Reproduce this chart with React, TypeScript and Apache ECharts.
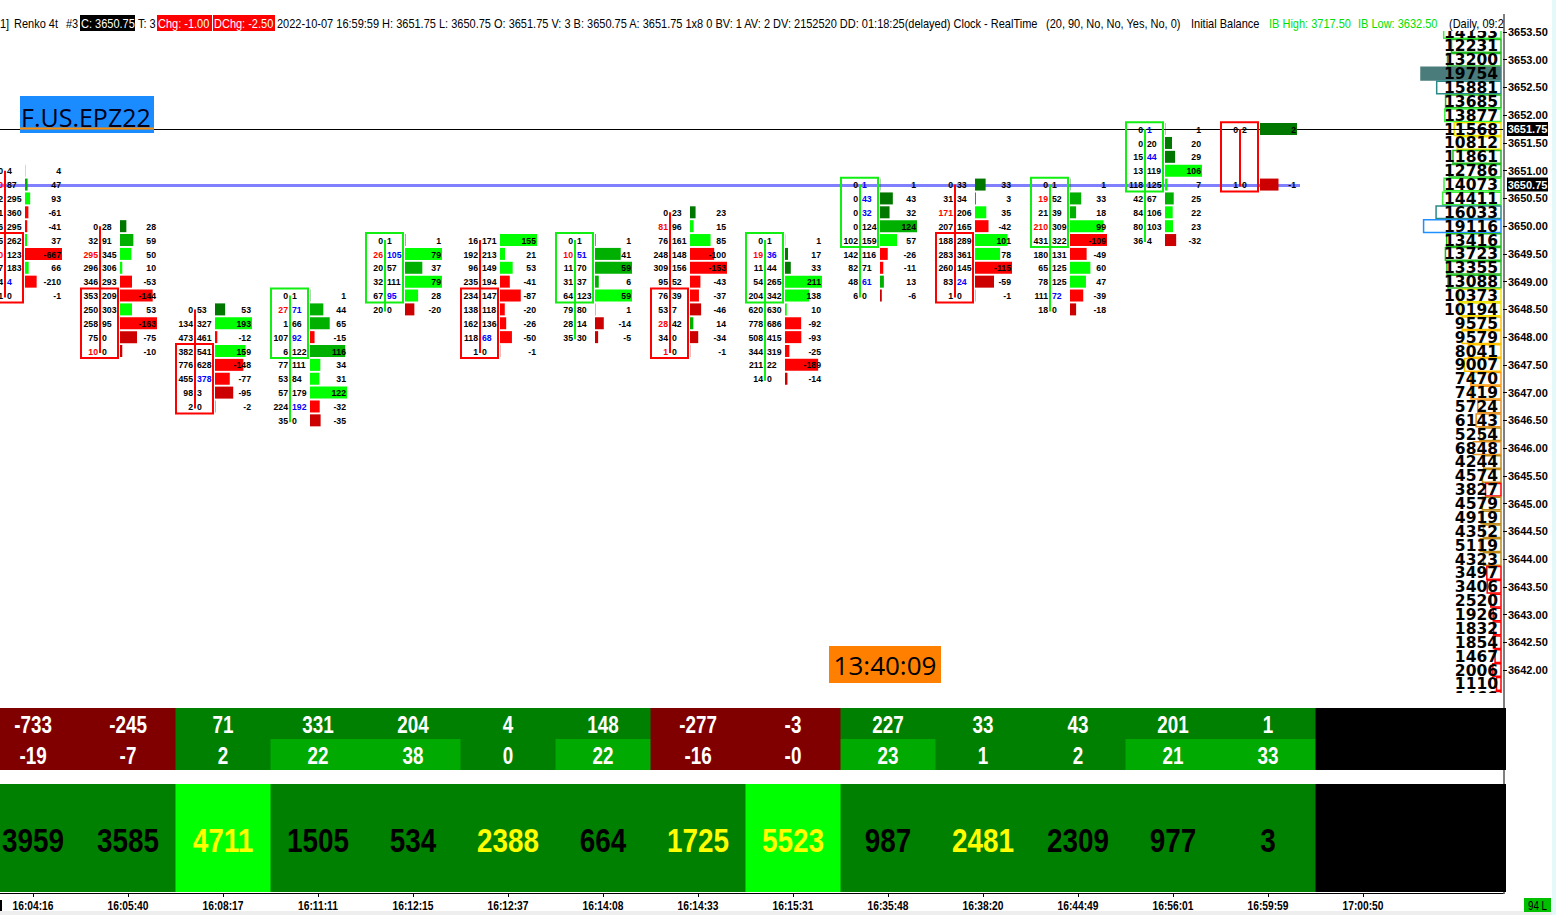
import React, { useEffect, useRef } from "react";
import * as echarts from "echarts";

// ---------- data ----------
const timeLabels = ["16:04:16", "16:05:40", "16:08:17", "16:11:11", "16:12:15", "16:12:37", "16:14:08", "16:14:33", "16:15:31", "16:35:48", "16:38:20", "16:44:49", "16:56:01", "16:59:59", "17:00:50"];
const barHighs = [3651.0, 3650.0, 3648.5, 3648.75, 3649.75, 3649.75, 3649.75, 3650.25, 3649.75, 3650.75, 3650.75, 3650.75, 3651.75, 3651.75];
const barDirection = ["down", "down", "down", "up", "up", "down", "up", "down", "up", "up", "down", "up", "up", "down"];
const bidVolumes: (number | null)[][] = [
  [0, 40, 202, 421, 336, 225, 790, 117, 214, 1],
  [0, 32, 295, 296, 346, 353, 250, 258, 75, 10],
  [0, 134, 473, 382, 776, 455, 98, 2],
  [0, 27, 1, 107, 6, 77, 53, 57, 224, 35],
  [0, 26, 20, 32, 67, 20],
  [16, 192, 96, 235, 234, 138, 162, 118, 1],
  [0, 10, 11, 31, 64, 79, 28, 35],
  [0, 81, 76, 248, 309, 95, 76, 53, 28, 34, 1],
  [0, 19, 11, 54, 204, 620, 778, 508, 344, 211, 14],
  [0, 0, 0, 0, 102, 142, 82, 48, 6],
  [0, 31, 171, 207, 188, 283, 260, 83, 1],
  [0, 19, 21, 210, 431, 180, 65, 78, 111, 18],
  [0, 0, 15, 13, 118, 42, 84, 80, 36],
  [0, null, null, null, 1],
];
const askVolumes: (number | null)[][] = [
  [4, 87, 295, 360, 295, 262, 123, 183, 4, 0],
  [28, 91, 345, 306, 293, 209, 303, 95, 0, 0],
  [53, 327, 461, 541, 628, 378, 3, 0],
  [1, 71, 66, 92, 122, 111, 84, 179, 192, 0],
  [1, 105, 57, 111, 95, 0],
  [171, 213, 149, 194, 147, 118, 136, 68, 0],
  [1, 51, 70, 37, 123, 80, 14, 30],
  [23, 96, 161, 148, 156, 52, 39, 7, 42, 0, 0],
  [1, 36, 44, 265, 342, 630, 686, 415, 319, 22, 0],
  [1, 43, 32, 124, 159, 116, 71, 61, 0],
  [33, 34, 206, 165, 289, 361, 145, 24, 0],
  [1, 52, 39, 309, 322, 131, 125, 125, 72, 0],
  [1, 20, 44, 119, 125, 67, 106, 103, 4],
  [2, null, null, null, 0],
];
const barDeltas = [-733, -245, 71, 331, 204, 4, 148, -277, -3, 227, 33, 43, 201, 1];
const deltaChange = [-19, -7, 2, 22, 38, 0, 22, -16, -0, 23, 1, 2, 21, 33];
const barVolumes = [3959, 3585, 4711, 1505, 534, 2388, 664, 1725, 5523, 987, 2481, 2309, 977, 3];
const profileTop = 3653.5;
const profileVolumes = [14153, 12231, 13200, 19754, 15881, 13685, 13877, 11568, 10812, 11861, 12786, 14073, 14411, 16033, 19116, 13416, 13723, 13355, 13088, 10373, 10194, 9575, 9579, 8041, 9007, 7470, 7419, 5724, 6143, 5254, 6848, 4244, 4574, 3827, 4579, 4919, 4352, 5119, 4323, 3497, 3406, 2520, 1926, 1832, 1854, 1467, 2006, 1110, 1460];
const askPrice = 3651.75;
const closePrice = 3650.75;
const priceMin = 3642.0;
const priceMax = 3653.5;

const TICK = 0.25;
const BRICK_TICKS = 4;
const IMBALANCE_RATIO = 3;

// layout constants
const PLOT_W = 1503;
const COL_W = 95;
const FIRST_CENTER = 33;
const X_MIN = -FIRST_CENTER / COL_W;
const X_MAX = (PLOT_W - FIRST_CENTER) / COL_W;
const N_SLOTS = 16;

const SANS = "'Liberation Sans', Arial, sans-serif";
const WIDE = "'DejaVu Sans', Verdana, sans-serif";
const UI = "'Open Sans', 'Noto Sans', sans-serif";
const NARROW_SCALE = 0.82;

function narrowText(x: number, y: number, text: string, size: number, fill: string, align = "left", bold = true, z?: number, scale = NARROW_SCALE) {
  const el: any = {
    type: "text",
    x,
    y,
    scaleX: scale,
    style: { text, fill, fontSize: size, fontWeight: bold ? "bold" : "normal", fontFamily: SANS, align, verticalAlign: "middle" },
  };
  if (z != null) el.z = z;
  return el;
}

function buildCells() {
  const cells: number[][] = [];
  bidVolumes.forEach((bids, c) => {
    const asks = askVolumes[c];
    const deltas = bids.map((b, r) => (b == null ? null : (asks[r] as number) - b));
    const maxAbs = Math.max(...deltas.filter((d) => d != null).map((d) => Math.abs(d as number)));
    bids.forEach((b, r) => {
      if (b == null) return;
      const a = asks[r] as number;
      const above = r > 0 ? asks[r - 1] : null;
      const below = r < bids.length - 1 ? bids[r + 1] : null;
      const bidImb = above != null && b > 0 && b >= IMBALANCE_RATIO * above ? 1 : 0;
      const askImb = below != null && a > 0 && a >= IMBALANCE_RATIO * below ? 1 : 0;
      cells.push([c, barHighs[c] - r * TICK, b, a, a - b, maxAbs, bidImb, askImb]);
    });
  });
  return cells;
}

function profileColor(v: number, max: number) {
  if (v === max) return "#4a7c7c";
  if (v >= 19000) return "#1e90ff";
  if (v >= 15000) return "#2a8a8a";
  if (v >= 13800) return "#3cf03c";
  if (v >= 11700) return "#22bb22";
  if (v >= 10000) return "#f0e400";
  if (v >= 8000) return "#ffc000";
  if (v >= 7000) return "#ff9a10";
  if (v >= 5500) return "#e89020";
  if (v >= 4000) return "#c08a18";
  return "#ff0000";
}

function buildOption(): any {
  const cells = buildCells();
  const profMax = Math.max(...profileVolumes);
  const emptyCols: number[] = [];
  for (let i = barVolumes.length; i < N_SLOTS; i++) emptyCols.push(i);

  const xAxes = [0, 1, 2].map((g) => ({
    type: "value",
    gridIndex: g,
    min: X_MIN,
    max: X_MAX,
    show: g === 2,
    axisLine: { show: true, onZero: false, lineStyle: { color: "#000", width: 1 } },
    axisTick: { show: false },
    axisLabel: { show: false },
    splitLine: { show: false },
  }));

  const header: any[] = [];
  const hBox = (x: number, w: number, color: string) =>
    header.push({ type: "rect", z: 100, shape: { x, y: 15, width: w, height: 16 }, style: { fill: color } });
  const hText = (x: number, text: string, fill = "#000") => header.push(narrowText(x, 23, text, 12.5, fill, "left", false, 101, 0.88));
  header.push({ type: "rect", z: 99, shape: { x: 0, y: 0, width: PLOT_W, height: 31 }, style: { fill: "#fff" } });
  hBox(80, 55, "#000000");
  hBox(157, 55, "#ff0000");
  hBox(213, 62, "#ff0000");
  hText(0, "1]");
  hText(14, "Renko 4t");
  hText(66, "#3");
  hText(81, "C: 3650.75", "#fff");
  hText(138, "T: 3");
  hText(158, "Chg: -1.00", "#fff");
  hText(214, "DChg: -2.50", "#fff");
  hText(277, "2022-10-07 16:59:59 H: 3651.75 L: 3650.75 O: 3651.75 V: 3 B: 3650.75 A: 3651.75 1x8 0 BV: 1 AV: 2 DV: 2152520 DD: 01:18:25(delayed) Clock - RealTime");
  hText(1046, "(20, 90, No, No, Yes, No, 0)");
  hText(1191, "Initial Balance");
  hText(1269, "IB High: 3717.50", "#00e000");
  hText(1358, "IB Low: 3632.50", "#00e000");
  hText(1449, "(Daily, 09:2");

  const graphics: any[] = [
    ...header,
    { type: "rect", z: 100, shape: { x: 0, y: 693, width: PLOT_W, height: 15 }, style: { fill: "#fff" } },
    { type: "line", z: 102, shape: { x1: 1504, y1: 14, x2: 1504, y2: 894 }, style: { stroke: "#000", lineWidth: 1 } },
    { type: "rect", z: 100, shape: { x: 1552, y: 0, width: 4, height: 915 }, style: { fill: "#e4fafa" } },
    { type: "rect", z: 100, shape: { x: 0, y: 911, width: 1552, height: 4 }, style: { fill: "#eeeeee" } },
    { type: "rect", z: 100, shape: { x: 0, y: 900, width: 2, height: 11 }, style: { fill: "#000" } },
    { type: "rect", z: 100, shape: { x: 1524, y: 898, width: 27, height: 14 }, style: { fill: "#00c000" } },
    narrowText(1537.5, 905.5, "94 L", 12, "#000", "center", false, 101),
    // instrument label
    { type: "rect", z: 100, shape: { x: 20, y: 96, width: 134, height: 37 }, style: { fill: "#1a8cff" } },
    { type: "line", z: 101, shape: { x1: 20, y1: 128.5, x2: 154, y2: 128.5 }, style: { stroke: "#ff8c00", lineWidth: 2 } },
    { type: "text", z: 102, x: 21, y: 117, style: { text: "F.US.EPZ22", fill: "#00001a", fontSize: 25, fontFamily: UI, align: "left", verticalAlign: "middle" } },
    // clock
    { type: "rect", z: 100, shape: { x: 829, y: 646, width: 112, height: 37 }, style: { fill: "#ff8000" } },
    { type: "text", z: 101, x: 885, y: 665, style: { text: "13:40:09", fill: "#000", fontSize: 26, fontFamily: UI, align: "center", verticalAlign: "middle" } },
  ];

  const gridBase = { left: 0, right: 1556 - PLOT_W };

  return {
    animation: false,
    backgroundColor: "#ffffff",
    grid: [
      { ...gridBase, top: 32, height: 638 },
      { ...gridBase, top: 708, height: 62 },
      { ...gridBase, top: 784, height: 109 },
    ],
    xAxis: xAxes,
    yAxis: [
      {
        gridIndex: 0,
        type: "value",
        min: priceMin,
        max: priceMax,
        interval: 0.5,
        position: "right",
        axisLine: { show: false, onZero: false },
        axisTick: { show: true, length: 4, lineStyle: { color: "#000" } },
        axisLabel: { formatter: (v: number) => v.toFixed(2), color: "#000", fontSize: 11, fontWeight: "bold", fontFamily: SANS, margin: 5 },
        splitLine: { show: false },
      },
      { gridIndex: 1, type: "value", min: 0, max: 2, inverse: true, show: false },
      { gridIndex: 2, type: "value", min: 0, max: 1, show: false },
    ],
    graphic: { elements: graphics },
    series: [
      // volume profile
      {
        type: "custom",
        xAxisIndex: 0,
        yAxisIndex: 0,
        z: 1,
        clip: false,
        encode: { x: 0, y: 1 },
        data: profileVolumes.map((v, i) => [0, profileTop - i * TICK, v]),
        renderItem: (params: any, api: any) => {
          const y = api.coord([0, api.value(1)])[1];
          const v = api.value(2);
          const right = params.coordSys.x + params.coordSys.width - 2;
          const w = (v / profMax) * 80;
          const col = profileColor(v, profMax);
          return {
            type: "group",
            children: [
              { type: "rect", shape: { x: right - w, y: y - 6.3, width: w, height: 12.6 }, style: { fill: v === profMax ? col : "none", stroke: col, lineWidth: 1.5 } },
              { type: "text", x: right - 3, y: y + 0.5, style: { text: String(v), align: "right", verticalAlign: "middle", fill: "#000", fontSize: 15.5, fontWeight: "bold", fontFamily: WIDE } },
            ],
          };
        },
      },
      // price lines
      {
        type: "custom",
        xAxisIndex: 0,
        yAxisIndex: 0,
        z: 2,
        clip: false,
        encode: { x: 0, y: 1 },
        data: [[0, askPrice, 0], [barHighs.length - 1, closePrice, 1]],
        renderItem: (params: any, api: any) => {
          const kind = api.value(2);
          const pt = api.coord([api.value(0), api.value(1)]);
          const y = Math.round(pt[1]) + 0.5;
          const x1 = params.coordSys.x;
          const x2 = kind === 0 ? params.coordSys.x + params.coordSys.width : pt[0] + 32;
          return {
            type: "line",
            shape: { x1, y1: y, x2, y2: y },
            style: kind === 0 ? { stroke: "#000", lineWidth: 1 } : { stroke: "#8080ff", lineWidth: 3 },
          };
        },
      },
      // renko bodies and wicks
      {
        type: "custom",
        xAxisIndex: 0,
        yAxisIndex: 0,
        z: 3,
        clip: false,
        encode: { x: 0, y: 1 },
        data: barHighs.map((h, c) => [c, h, h - (bidVolumes[c].length - 1) * TICK, barDirection[c] === "up" ? 1 : 0]),
        renderItem: (params: any, api: any) => {
          const c = api.value(0);
          const high = api.value(1);
          const low = api.value(2);
          const up = api.value(3) === 1;
          const top = api.coord([c, high]);
          const bot = api.coord([c, low]);
          const rowH = api.size([0, TICK])[1];
          const cx = top[0];
          const boxHi = up ? high : low + BRICK_TICKS * TICK;
          const boxLo = up ? high - BRICK_TICKS * TICK : low;
          const y1 = api.coord([c, boxHi])[1] - rowH / 2;
          const y2 = api.coord([c, boxLo])[1] + rowH / 2;
          const color = up ? "#11ee11" : "#ff0000";
          return {
            type: "group",
            children: [
              { type: "line", shape: { x1: cx - 28, y1: top[1], x2: cx - 28, y2: bot[1] + 2 }, style: { stroke: color, lineWidth: 2 } },
              { type: "rect", shape: { x: cx - 47, y: y1, width: 37, height: y2 - y1 }, style: { fill: "none", stroke: color, lineWidth: 2 } },
            ],
          };
        },
      },
      // footprint cells
      {
        type: "custom",
        xAxisIndex: 0,
        yAxisIndex: 0,
        z: 4,
        clip: false,
        encode: { x: 0, y: 1 },
        data: cells,
        renderItem: (params: any, api: any) => {
          const pt = api.coord([api.value(0), api.value(1)]);
          const cx = pt[0];
          const cy = pt[1];
          const bid = api.value(2);
          const ask = api.value(3);
          const d = api.value(4);
          const mx = api.value(5);
          const len = mx > 0 ? (Math.abs(d) / mx) * 37 : 0;
          const vol = bid + ask;
          const color = d >= 0 ? (vol < 60 ? "#007800" : vol < 130 ? "#00b000" : "#00ff00") : vol < 110 ? "#cc0000" : "#ff0000";
          const t = (x: number, text: string, align: string, fill: string) => ({
            type: "text",
            x,
            y: cy + 0.5,
            scaleX: 0.92,
            style: { text, align, verticalAlign: "middle", fill, fontSize: 9.5, fontWeight: "bold", fontFamily: SANS },
          });
          return {
            type: "group",
            children: [
              { type: "rect", shape: { x: cx - 8, y: cy - 6, width: len, height: 12 }, style: { fill: color } },
              t(cx - 30, String(bid), "right", api.value(6) ? "#ff0000" : "#000"),
              t(cx - 26, String(ask), "left", api.value(7) ? "#0000ff" : "#000"),
              t(cx + 28, String(d), "right", "#000"),
            ],
          };
        },
      },
      // highlighted axis prices
      {
        type: "custom",
        xAxisIndex: 0,
        yAxisIndex: 0,
        z: 5,
        clip: false,
        encode: { x: 0, y: 1 },
        data: [[0, askPrice], [0, closePrice]],
        renderItem: (params: any, api: any) => {
          const y = api.coord([0, api.value(1)])[1];
          const x = params.coordSys.x + params.coordSys.width + 4;
          return {
            type: "group",
            children: [
              { type: "rect", shape: { x, y: y - 7, width: 41, height: 14 }, style: { fill: "#000" } },
              { type: "text", x: x + 20.5, y, style: { text: api.value(1).toFixed(2), align: "center", verticalAlign: "middle", fill: "#fff", fontSize: 11, fontWeight: "bold", fontFamily: SANS } },
            ],
          };
        },
      },
      // delta panel
      {
        type: "custom",
        xAxisIndex: 1,
        yAxisIndex: 1,
        clip: false,
        encode: { x: 0, y: 1 },
        data: barDeltas.map((d, i) => [i, d, deltaChange[i]]),
        renderItem: (params: any, api: any) => {
          const i = api.value(0);
          const d = api.value(1);
          const ch = deltaChange[i];
          const cx = api.coord([i, 0])[0];
          const top = params.coordSys.y;
          const h = params.coordSys.height / 2;
          const neg = d < 0;
          const bgA = neg ? "#800000" : "#008000";
          const bgB = neg ? "#800000" : ch >= 10 ? "#00aa00" : "#008000";
          const chText = Object.is(ch, -0) || (neg && ch === 0) ? "-0" : String(ch);
          return {
            type: "group",
            children: [
              { type: "rect", shape: { x: cx - COL_W / 2, y: top, width: COL_W + 0.5, height: h }, style: { fill: bgA } },
              { type: "rect", shape: { x: cx - COL_W / 2, y: top + h, width: COL_W + 0.5, height: h }, style: { fill: bgB } },
              narrowText(cx, top + h / 2 + 1, String(d), 23, "#fff", "center"),
              narrowText(cx, top + h * 1.5 + 1, chText, 23, "#fff", "center"),
            ],
          };
        },
      },
      {
        type: "custom",
        xAxisIndex: 1,
        yAxisIndex: 1,
        clip: false,
        encode: { x: 0, y: 1 },
        data: emptyCols.map((i) => [i, 0]),
        renderItem: (params: any, api: any) => {
          const cx = api.coord([api.value(0), 0])[0];
          return { type: "rect", shape: { x: cx - COL_W / 2, y: params.coordSys.y, width: COL_W + 0.5, height: params.coordSys.height }, style: { fill: "#000" } };
        },
      },
      // volume panel
      {
        type: "custom",
        xAxisIndex: 2,
        yAxisIndex: 2,
        clip: false,
        encode: { x: 0, y: 1 },
        data: barVolumes.map((v, i) => [i, v]),
        renderItem: (params: any, api: any) => {
          const i = api.value(0);
          const v = api.value(1);
          const cx = api.coord([i, 0])[0];
          const top = params.coordSys.y;
          const h = params.coordSys.height - 1;
          const bg = v >= 4500 ? "#00ff00" : "#008000";
          const fill = i > 0 && v > barVolumes[i - 1] ? "#ffff00" : "#000000";
          return {
            type: "group",
            children: [
              { type: "rect", shape: { x: cx - COL_W / 2, y: top, width: COL_W + 0.5, height: h }, style: { fill: bg } },
              narrowText(cx, top + h / 2 + 3, String(v), 34, fill, "center"),
            ],
          };
        },
      },
      {
        type: "custom",
        xAxisIndex: 2,
        yAxisIndex: 2,
        clip: false,
        encode: { x: 0, y: 1 },
        data: emptyCols.map((i) => [i, 0]),
        renderItem: (params: any, api: any) => {
          const cx = api.coord([api.value(0), 0])[0];
          return { type: "rect", shape: { x: cx - COL_W / 2, y: params.coordSys.y, width: COL_W + 0.5, height: params.coordSys.height - 1 }, style: { fill: "#000" } };
        },
      },
      // time axis labels and ticks
      {
        type: "custom",
        xAxisIndex: 2,
        yAxisIndex: 2,
        clip: false,
        encode: { x: 0, y: 1 },
        data: timeLabels.map((_, i) => [i, 0]),
        renderItem: (params: any, api: any) => {
          const i = api.value(0);
          const cx = api.coord([i, 0])[0];
          const yb = params.coordSys.y + params.coordSys.height;
          return {
            type: "group",
            children: [
              { type: "line", shape: { x1: cx + 0.5, y1: yb, x2: cx + 0.5, y2: yb + 4 }, style: { stroke: "#000", lineWidth: 1 } },
              narrowText(cx, yb + 12.5, timeLabels[i], 12.5, "#000", "center"),
            ],
          };
        },
      },
    ],
  };
}

export default function App() {
  const ref = useRef<HTMLDivElement>(null);
  useEffect(() => {
    if (!ref.current) return;
    const chart = echarts.init(ref.current, null, { renderer: "svg" });
    chart.setOption(buildOption());
    return () => chart.dispose();
  }, []);
  return <div ref={ref} style={{ position: "fixed", left: 0, top: 0, width: 1556, height: 915, background: "#ffffff" }} />;
}
